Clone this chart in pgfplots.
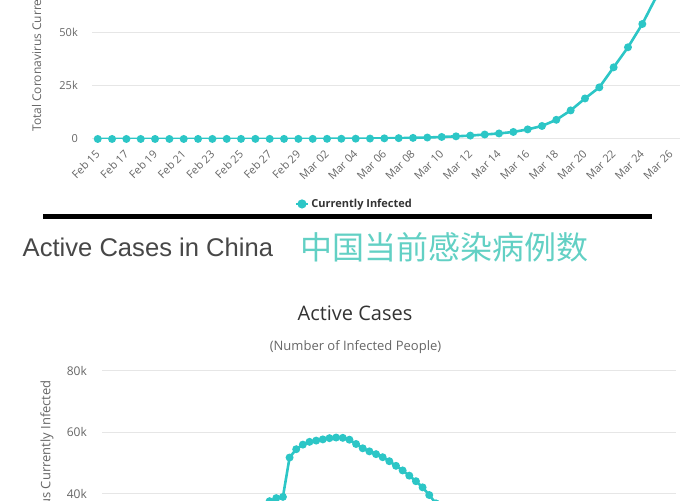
\documentclass[border=0pt]{standalone}
\usepackage{pgfplots}
\pgfplotsset{compat=1.18}
\usepackage{fontspec}
\setmainfont{Open Sans}
\newfontfamily\arialf{Liberation Sans}
\newfontfamily\cjk{Noto Sans CJK SC}
\definecolor{turq}{HTML}{2CC6C6}
\definecolor{cjkteal}{HTML}{62D0C4}
\definecolor{gridgray}{HTML}{E6E6E6}
\definecolor{labgray}{HTML}{666666}
\definecolor{titlegray}{HTML}{333333}

% shared look of the two highcharts-style panels
\pgfplotsset{hc/.style={
  scale only axis,
  axis line style={draw=none},
  major tick length=0pt,
  ymajorgrids,
  grid style={gridgray, line width=1pt},
  tick label style={font=\fontsize{11}{13}\selectfont, text=labgray},
  /pgf/number format/assume math mode=true,
  scaled y ticks=false,
}}

\begin{document}
\begin{tikzpicture}
\useasboundingbox (0pt,0pt) rectangle (700pt,500pt);
\clip (0pt,0pt) rectangle (700pt,500pt);

% ---- top panel: currently infected (cropped at top)
\begin{axis}[hc,
  at={(92pt,361pt)}, anchor=south west,
  width=588pt, height=160pt,
  xmin=-0.4, xmax=40.63,
  ymin=0, ymax=75000,
  xtick={0,2,...,40},
  xticklabels={Feb 15,Feb 17,Feb 19,Feb 21,Feb 23,Feb 25,Feb 27,Feb 29,Mar 02,Mar 04,Mar 06,Mar 08,Mar 10,Mar 12,Mar 14,Mar 16,Mar 18,Mar 20,Mar 22,Mar 24,Mar 26},
  xticklabel style={anchor=north east, inner sep=0pt, xshift=-3pt, yshift=-10pt, rotate=45},
  ytick={0,25000,50000,75000},
  yticklabels={0,25k,50k,75k},
  yticklabel style={anchor=east, inner sep=0pt, xshift=-14pt},
  legend style={at={(0.446,-0.406)}, anchor=center, draw=none, fill=none,
    font=\fontsize{11}{13}\selectfont\bfseries, text=titlegray},
  legend image code/.code={
    \draw[turq, line width=2.8pt] (-3pt,0pt)--(9pt,0pt);
    \fill[turq] (3pt,0pt) circle (3.2pt);},
]
\addplot[turq, line width=2.6pt, mark=*, mark size=2.6pt] coordinates {
  (0,15) (1,15) (2,15) (3,15) (4,15) (5,15) (6,15) (7,35)
  (8,35) (9,53) (10,53) (11,57) (12,60) (13,60) (14,62)
  (15,70) (16,90) (17,115) (18,150) (19,210) (20,300) (21,400)
  (22,520) (23,690) (24,950) (25,1250) (26,1600) (27,2100)
  (28,2600) (29,3300) (30,4500) (31,6100) (32,9000) (33,13400)
  (34,19000) (35,24200) (36,33600) (37,43000) (38,53900) (39,67000)
};
\addlegendentry{Currently Infected}
\end{axis}

\node[rotate=90, anchor=west, inner sep=0pt, text=labgray,
  font=\fontsize{12}{14}\selectfont] at (38pt,368pt) {Total Coronavirus Currently Infected};

% separator rule
\fill[black] (42.5pt,280.5pt) rectangle (652pt,286pt);

% heading between the panels
\node[anchor=base west, inner sep=0pt, text=titlegray!90,
  font=\arialf\fontsize{25.6}{30}\selectfont] at (22.5pt,243.3pt) {Active Cases in China};
\node[anchor=base west, inner sep=0pt, text=cjkteal,
  font=\cjk\fontsize{32}{36}\selectfont] at (300pt,240.5pt) {中国当前感染病例数};

% ---- bottom panel: active cases in China (cropped at bottom)
\node[anchor=base, inner sep=0pt, text=titlegray,
  font=\fontsize{20}{24}\selectfont] at (355pt,179.3pt) {Active Cases};
\node[anchor=base, inner sep=0pt, text=labgray,
  font=\fontsize{13}{15}\selectfont] at (355.5pt,149.5pt) {(Number of Infected People)};

\begin{axis}[hc,
  at={(102pt,-116.5pt)}, anchor=south west,
  width=574pt, height=246pt,
  xmin=-7.2, xmax=79.1,
  ymin=0, ymax=80000,
  xtick=\empty,
  ytick={0,20000,40000,60000,80000},
  yticklabels={0,20k,40k,60k,80k},
  yticklabel style={anchor=east, inner sep=0pt, xshift=-15pt},
  tick label style={font=\fontsize{12}{14}\selectfont},
]
\addplot[turq, line width=2.6pt, mark=*, mark size=2.6pt] coordinates {
  (16,33000) (17,35000) (18,37500) (19,38500) (20,38900)
  (21,51700) (22,54400) (23,55900) (24,56800) (25,57200)
  (26,57600) (27,58000) (28,58200) (29,58100) (30,57500)
  (31,56100) (32,54700) (33,53700) (34,52800) (35,51800)
  (36,50500) (37,49000) (38,47500) (39,45800) (40,44000)
  (41,42000) (42,39500) (43,36800) (44,34000) (45,31000)
};
\end{axis}

\node[rotate=90, anchor=east, inner sep=0pt, text=labgray,
  font=\fontsize{13}{15}\selectfont] at (47pt,120pt) {Total Coronavirus Currently Infected};
\end{tikzpicture}
\end{document}
